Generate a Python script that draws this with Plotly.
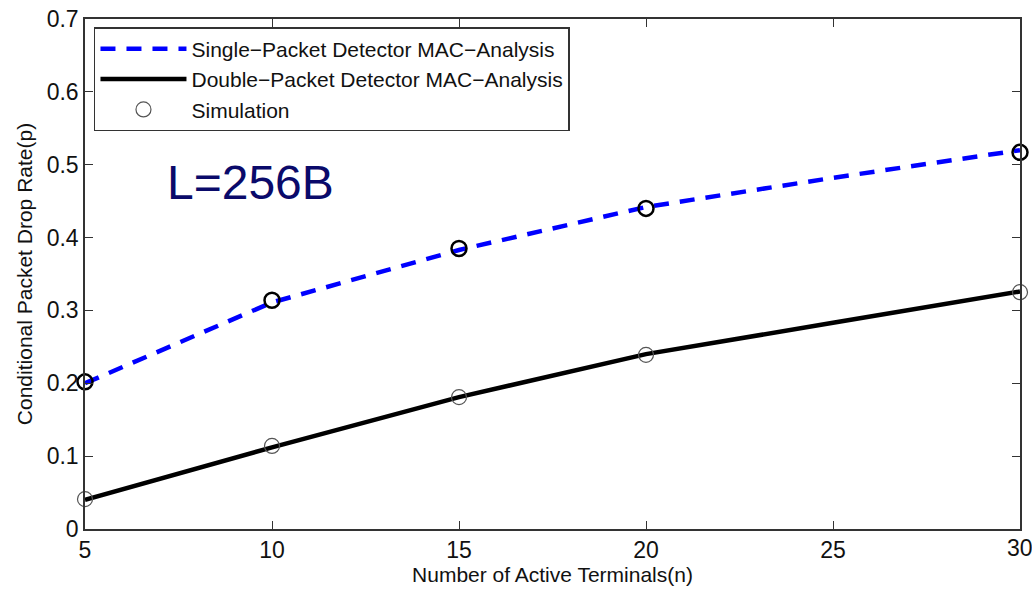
import plotly.graph_objects as go

# Number of active terminals
n_terminals = [5, 10, 15, 20, 25, 30]

# Analytical drop rates
single_analysis = [0.200, 0.311, 0.383, 0.442, 0.482, 0.520]
double_analysis = [0.040, 0.112, 0.181, 0.240, 0.283, 0.326]

# Simulation points
sim_n = [5, 10, 15, 20, 30]
single_sim = [0.202, 0.314, 0.385, 0.440, 0.517]
double_sim = [0.041, 0.114, 0.181, 0.239, 0.325]

x_ticks = [5, 10, 15, 20, 25, 30]
x_tick_text = ["5", "10", "15", "20", "25", "30"]
y_ticks = [0, 0.1, 0.2, 0.3, 0.4, 0.5, 0.6, 0.7]
y_tick_text = ["0", "0.1", "0.2", "0.3", "0.4", "0.5", "0.6", "0.7"]

FONT = "Liberation Sans, Arial, Helvetica, sans-serif"
TICK_SIZE = 23

fig = go.Figure()

fig.add_trace(go.Scatter(
    x=n_terminals, y=single_analysis, mode="lines",
    name="Single\u2212Packet Detector MAC\u2212Analysis",
    line=dict(color="#0000ff", width=4.5, dash="15px,11px"),
    legendrank=1,
))
fig.add_trace(go.Scatter(
    x=n_terminals, y=double_analysis, mode="lines",
    name="Double\u2212Packet Detector MAC\u2212Analysis",
    line=dict(color="#000000", width=4.5),
    legendrank=2,
))
fig.add_trace(go.Scatter(
    x=sim_n, y=single_sim, mode="markers",
    name="Simulation", showlegend=False,
    marker=dict(symbol="circle-open", size=15, color="#000000",
                line=dict(width=2.5, color="#000000")),
    cliponaxis=False,
))
fig.add_trace(go.Scatter(
    x=sim_n, y=double_sim, mode="markers",
    name="Simulation",
    marker=dict(symbol="circle-open", size=15, color="#555555",
                line=dict(width=1.2, color="#555555")),
    cliponaxis=False,
    legendrank=3,
))

fig.add_annotation(
    x=9.42, y=0.475, xref="x", yref="y",
    text="L=256B", showarrow=False,
    font=dict(family=FONT, size=48, color="#0a0a6a"),
)

# The last x tick label runs past the page edge, so it is placed as a
# free-standing label (the axis would otherwise drop it).
fig.add_annotation(
    x=x_ticks[-1], y=0, xref="x", yref="y",
    text=x_tick_text[-1], showarrow=False,
    xanchor="center", yanchor="top", yshift=-4,
    font=dict(family=FONT, size=TICK_SIZE, color="#111111"),
)

axis_common = dict(
    showline=True, linecolor="#333333", linewidth=1.5,
    mirror="ticks", ticks="inside", ticklen=8, tickwidth=1,
    tickcolor="#333333", showgrid=False, zeroline=False,
    automargin=False,
    tickfont=dict(family=FONT, size=TICK_SIZE, color="#111111"),
)

fig.update_layout(
    width=1032, height=589,
    margin=dict(l=85, r=12, t=19, b=60),
    paper_bgcolor="white", plot_bgcolor="white",
    font=dict(family=FONT, color="#111111"),
    xaxis=dict(
        range=[5, 30], tickvals=x_ticks,
        ticktext=x_tick_text[:-1] + [""],
        title=dict(text="Number of Active Terminals(n)",
                   font=dict(family=FONT, size=21), standoff=0),
        **axis_common,
    ),
    yaxis=dict(
        range=[0, 0.7], tickvals=y_ticks, ticktext=y_tick_text,
        title=dict(text="Conditional Packet Drop Rate(p)",
                   font=dict(family=FONT, size=21), standoff=8),
        **axis_common,
    ),
    legend=dict(
        x=0.0096, y=0.984, xanchor="left", yanchor="top",
        bgcolor="white", bordercolor="#333333", borderwidth=1.5,
        font=dict(family=FONT, size=21, color="#111111"),
        itemwidth=86, tracegroupgap=0,
    ),
    showlegend=True,
)

fig.write_html("out.html")
